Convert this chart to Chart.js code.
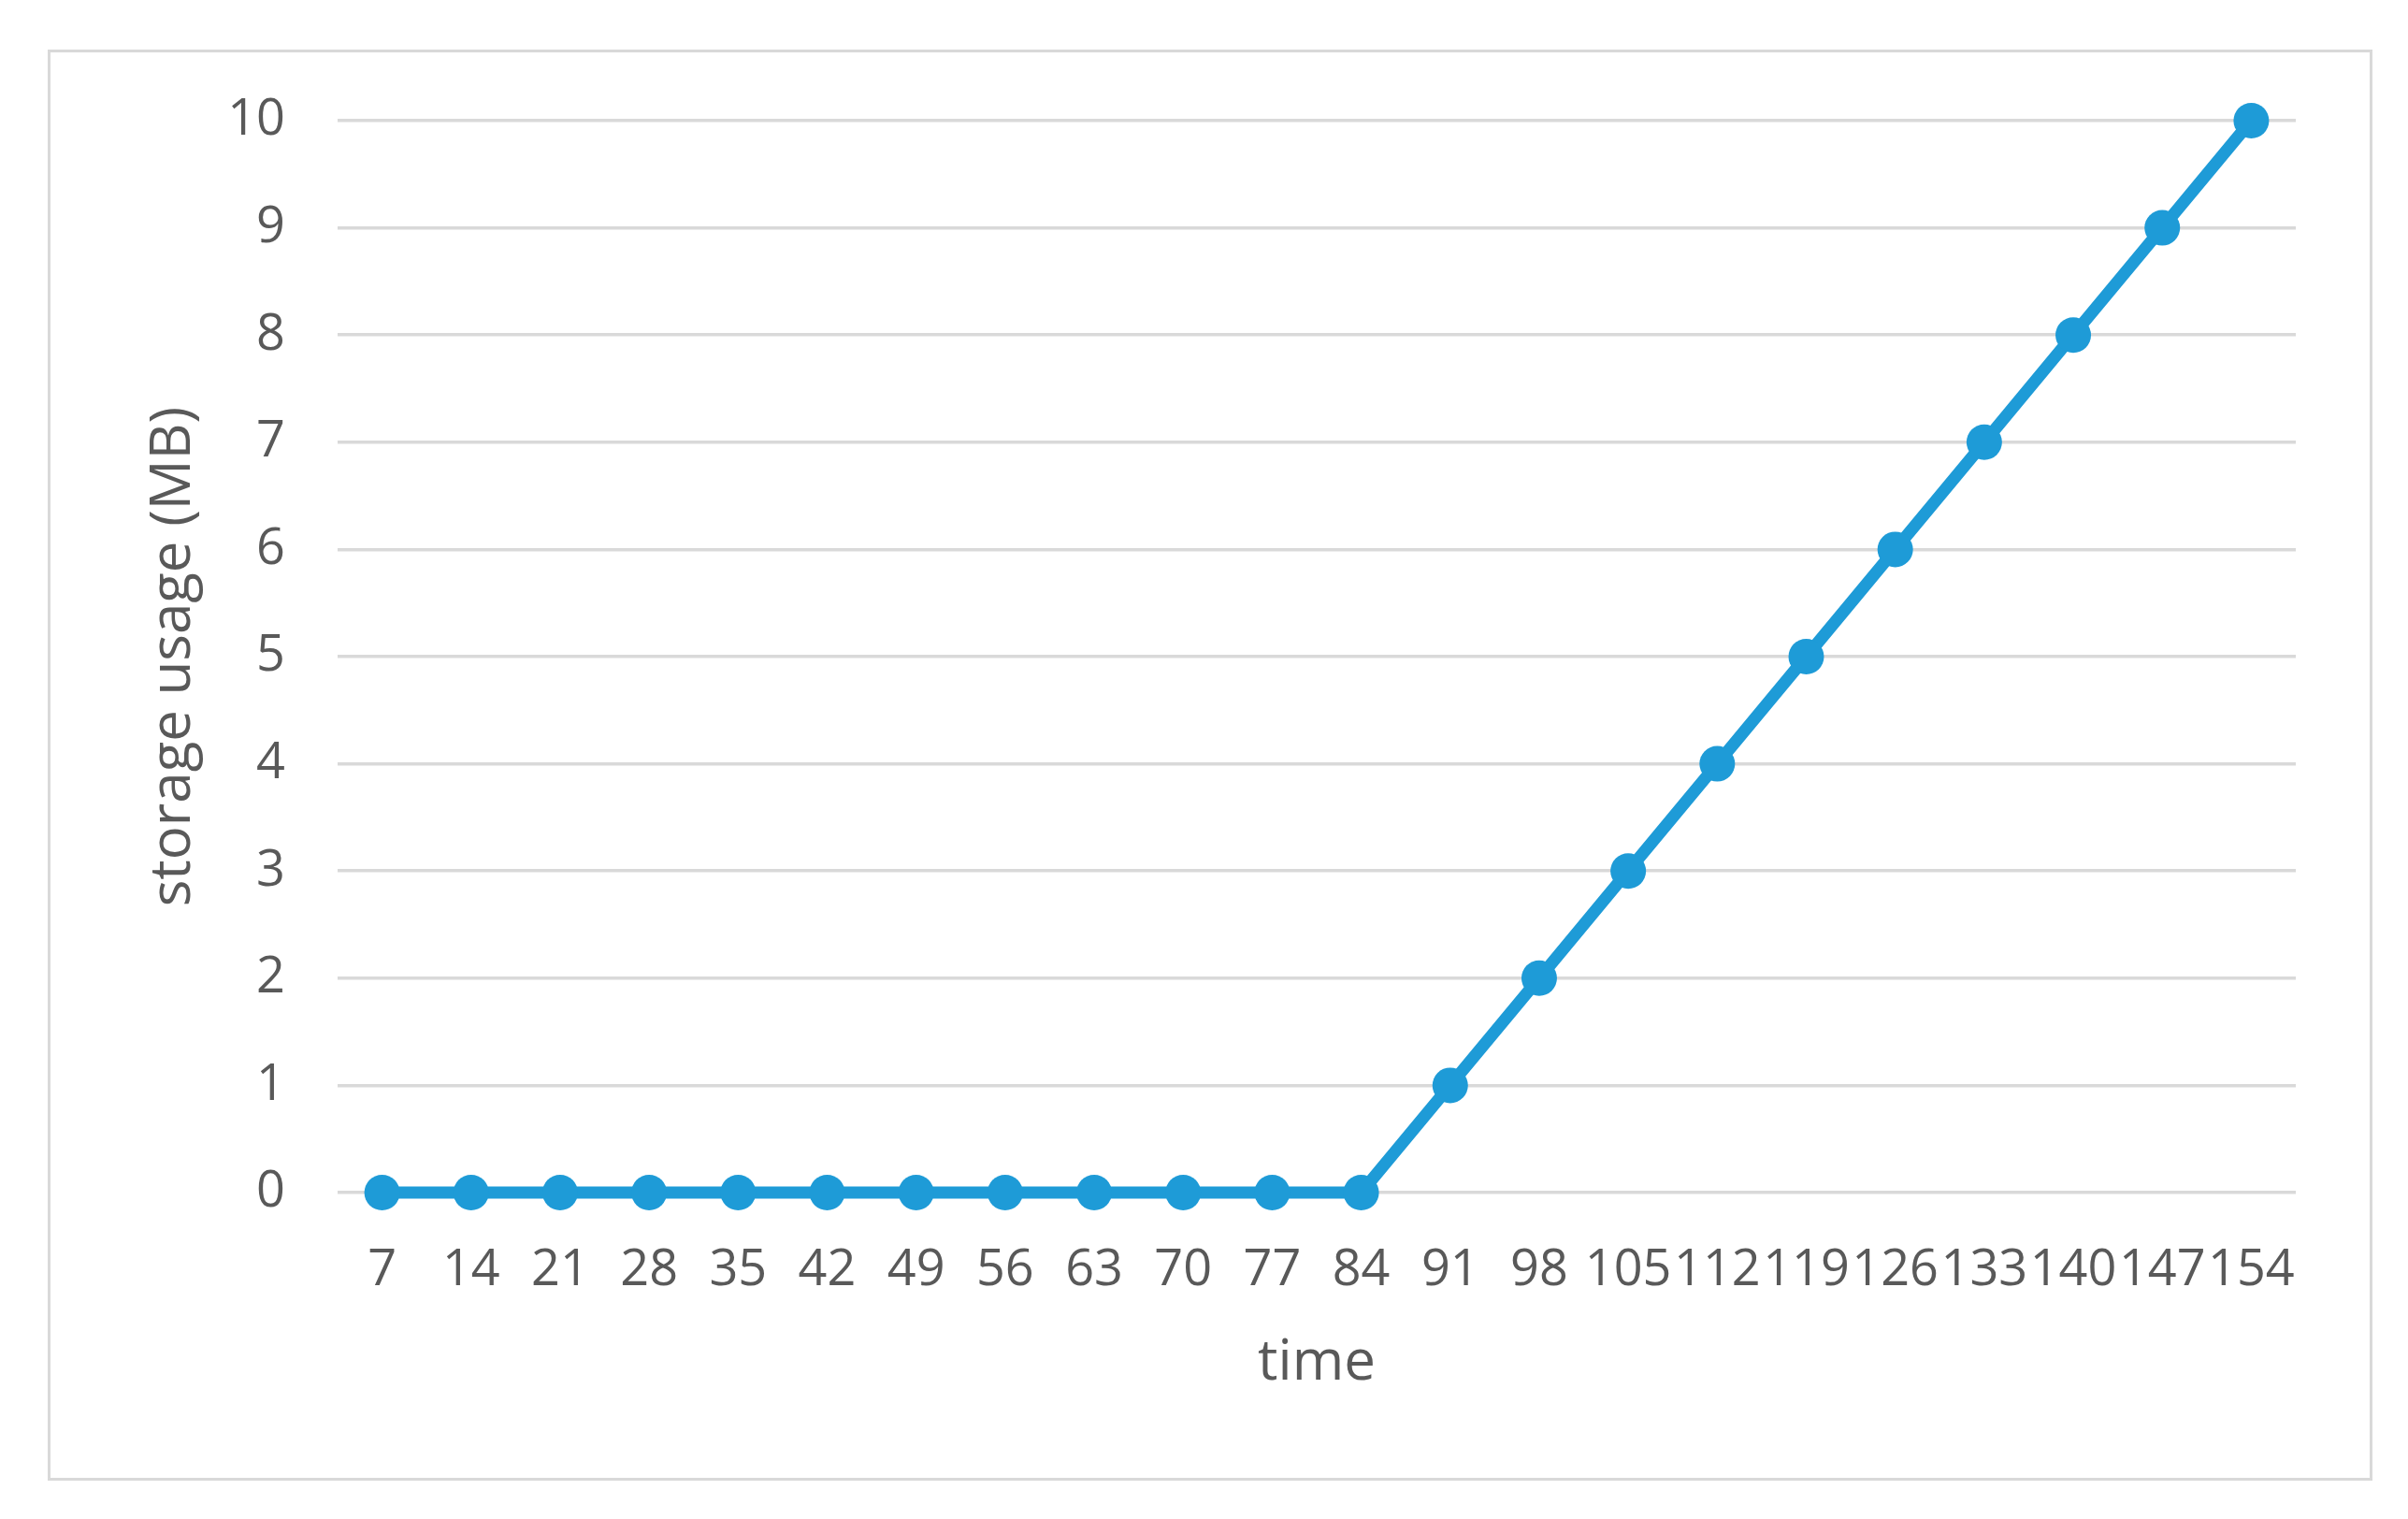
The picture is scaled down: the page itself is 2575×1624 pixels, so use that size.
<!DOCTYPE html>
<html lang="en">
<head>
    <meta charset="UTF-8">
    <title>storage usage over time</title>
    <script src="https://cdn.jsdelivr.net/npm/chart.js"></script>
    <style>
        body { margin: 0; background: #ffffff; }
        #wrap { position: relative; width: 2575px; height: 1624px; }
        #frame {
            position: absolute; left: 51px; top: 53px;
            width: 2480px; height: 1524px;
            border: 3px solid #d9d9d9;
        }
        #chart { position: absolute; left: 0; top: 0; }
    </style>
</head>
<body>
    <div id="wrap">
        <div id="frame"></div>
        <canvas id="chart" width="2575" height="1624"></canvas>
    </div>

    <script>
        // categories (time) and series values
        const timeLabels = [7, 14, 21, 28, 35, 42, 49, 56, 63, 70, 77, 84,
                            91, 98, 105, 112, 119, 126, 133, 140, 147, 154];
        const storageMB = [0, 0, 0, 0, 0, 0, 0, 0, 0, 0, 0, 0,
                           1, 2, 3, 4, 5, 6, 7, 8, 9, 10];
        const yTicks = [0, 1, 2, 3, 4, 5, 6, 7, 8, 9, 10];

        const lineBlue = '#1e9bd7';
        const textGrey = '#595959';
        const fontFamily = '"Open Sans", "Liberation Sans", sans-serif';

        const ctx = document.getElementById('chart').getContext('2d');
        new Chart(ctx, {
            type: 'line',
            data: {
                labels: timeLabels,
                datasets: [{
                    label: 'storage usage',
                    data: storageMB,
                    borderColor: lineBlue,
                    backgroundColor: lineBlue,
                    borderWidth: 13,
                    pointRadius: 19,
                    pointHoverRadius: 19,
                    pointBorderWidth: 0,
                    pointBackgroundColor: lineBlue,
                    tension: 0,
                    clip: false
                }]
            },
            options: {
                responsive: false,
                animation: false,
                devicePixelRatio: 1,
                layout: { padding: { left: 150, right: 120, top: 129, bottom: 130 } },
                plugins: {
                    legend: { display: false },
                    tooltip: { enabled: false }
                },
                scales: {
                    x: {
                        offset: true,
                        grid: { display: false, drawTicks: false },
                        border: { display: false },
                        ticks: {
                            autoSkip: false,
                            maxRotation: 0,
                            minRotation: 0,
                            padding: 51,
                            color: textGrey,
                            font: { family: fontFamily, size: 54 }
                        },
                        title: {
                            display: true,
                            text: 'time',
                            color: textGrey,
                            padding: 0,
                            font: { family: fontFamily, size: 60 }
                        },
                        afterFit: function (scale) { scale.height = 219; }
                    },
                    y: {
                        min: 0,
                        max: 10,
                        afterBuildTicks: function (scale) {
                            scale.ticks = yTicks.map(v => ({ value: v }));
                        },
                        grid: { color: '#d9d9d9', lineWidth: 3.5, drawTicks: false },
                        border: { display: false },
                        ticks: {
                            padding: 56,
                            color: textGrey,
                            font: { family: fontFamily, size: 54 }
                        },
                        title: {
                            display: true,
                            text: 'storage usage (MB)',
                            color: textGrey,
                            padding: 0,
                            font: { family: fontFamily, size: 60 }
                        },
                        afterFit: function (scale) { scale.width = 211; }
                    }
                }
            }
        });
    </script>
</body>
</html>
